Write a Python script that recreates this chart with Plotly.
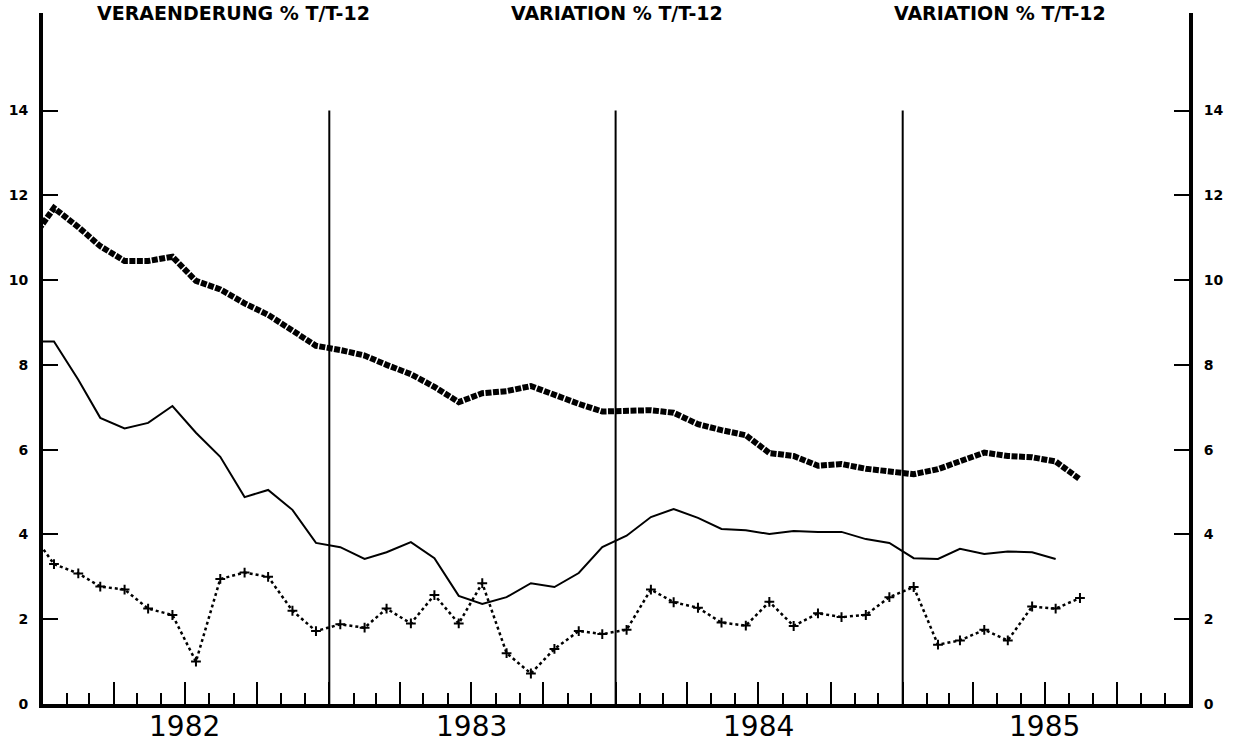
import pandas as pd
import plotly.graph_objects as go

# Monthly observations, Dec 1981 .. Aug 1985 (plotted at mid-month)
months = [d + pd.Timedelta(days=14) for d in pd.date_range("1981-12-01", periods=45, freq="MS")]

series_thick = [10.9, 11.7, 11.25, 10.8, 10.45, 10.45, 10.55, 9.98, 9.78, 9.45, 9.18, 8.8,
                8.45, 8.35, 8.22, 8.0, 7.78, 7.48, 7.12, 7.33, 7.38, 7.5, 7.28, 7.08,
                6.9, 6.9, 6.93, 6.87, 6.6, 6.46, 6.34, 5.92, 5.85, 5.62, 5.66, 5.55,
                5.5, 5.42, 5.54, 5.72, 5.93, 5.85, 5.82, 5.72, 5.3]

series_solid = [8.55, 8.55, 7.65, 6.75, 6.5, 6.63, 7.03, 6.4, 5.83, 4.88, 5.05, 4.58,
                3.8, 3.7, 3.42, 3.58, 3.82, 3.44, 2.55, 2.36, 2.52, 2.85, 2.76, 3.09,
                3.7, 3.97, 4.41, 4.6, 4.39, 4.13, 4.1, 4.01, 4.08, 4.06, 4.06, 3.89,
                3.8, 3.44, 3.42, 3.66, 3.54, 3.6, 3.58, 3.42]

series_plus = [4.1, 3.3, 3.08, 2.77, 2.7, 2.25, 2.1, 1.0, 2.95, 3.1, 3.0, 2.2,
               1.72, 1.88, 1.8, 2.25, 1.9, 2.57, 1.9, 2.85, 1.2, 0.72, 1.3, 1.72,
               1.65, 1.75, 2.7, 2.4, 2.27, 1.92, 1.85, 2.41, 1.84, 2.14, 2.05, 2.1,
               2.52, 2.76, 1.4, 1.5, 1.75, 1.5, 2.3, 2.25, 2.5]

y_ticks = [0, 2, 4, 6, 8, 10, 12, 14]
quarter_ticks = ["1982-04-01", "1982-07-01", "1982-10-01",
                 "1983-01-01", "1983-04-01", "1983-07-01", "1983-10-01",
                 "1984-01-01", "1984-04-01", "1984-07-01", "1984-10-01",
                 "1985-01-01", "1985-04-01", "1985-07-01", "1985-10-01"]
year_labels = ["1982", "1983", "1984", "1985"]
year_mid = ["1982-07-01", "1983-07-01", "1984-07-01", "1985-07-01"]
year_breaks = ["1983-01-01", "1984-01-01", "1985-01-01"]
titles = ["VERAENDERUNG % T/T-12", "VARIATION % T/T-12", "VARIATION % T/T-12"]
title_pos = [0.166, 0.501, 0.835]

fig = go.Figure()
fig.add_trace(go.Scatter(x=months, y=series_thick, mode="lines",
                         line=dict(color="black", width=6, dash="6px,1.5px"),
                         showlegend=False))
fig.add_trace(go.Scatter(x=months[:len(series_solid)], y=series_solid, mode="lines",
                         line=dict(color="black", width=2),
                         showlegend=False))
fig.add_trace(go.Scatter(x=months, y=series_plus, mode="lines+markers",
                         line=dict(color="black", width=2.5, dash="3px,3px"),
                         marker=dict(symbol="cross-thin", size=7,
                                     line=dict(color="black", width=2)),
                         showlegend=False))
# empty trace to register the right-hand axis
fig.add_trace(go.Scatter(x=[], y=[], yaxis="y2", showlegend=False))

for xb in year_breaks:
    fig.add_shape(type="line", xref="x", yref="y", x0=xb, x1=xb, y0=0, y1=14,
                  line=dict(color="black", width=2))

for t, px in zip(titles, title_pos):
    fig.add_annotation(text=t, xref="paper", yref="paper", x=px, y=1.0,
                       xanchor="center", yanchor="middle", showarrow=False,
                       font=dict(family="DejaVu Sans", size=19, color="black",
                                 weight="bold"))

for lab, xm in zip(year_labels, year_mid):
    fig.add_annotation(text=lab, xref="x", yref="paper", x=xm, y=0,
                       xanchor="center", yanchor="top", yshift=-4, showarrow=False,
                       font=dict(family="DejaVu Sans", size=28, color="black"))

yaxis_common = dict(range=[0, 16.3], tickvals=y_ticks, ticks="inside", ticklen=15,
                    tickwidth=2, tickcolor="black", showline=True, linewidth=4,
                    linecolor="black", showgrid=False, zeroline=False,
                    automargin=False,
                    tickfont=dict(family="DejaVu Sans", size=14, color="black",
                                  weight="bold"),
                    ticklabelstandoff=8)

fig.update_layout(
    width=1241, height=747,
    margin=dict(l=43, r=52, t=13, b=43),
    paper_bgcolor="white", plot_bgcolor="white",
    font=dict(family="DejaVu Sans", color="black"),
    xaxis=dict(type="date", range=["1982-01-01", "1986-01-01"],
               tickvals=quarter_ticks, showticklabels=False,
               ticks="inside", ticklen=22, tickwidth=2, tickcolor="black",
               minor=dict(ticks="inside", ticklen=11, tickwidth=2, tickcolor="black",
                          dtick="M1", tick0="1982-01-01"),
               showline=True, linewidth=4, linecolor="black",
               showgrid=False, zeroline=False, automargin=False),
    yaxis=dict(**yaxis_common, side="left"),
    yaxis2=dict(**yaxis_common, side="right", overlaying="y", anchor="x"),
)

fig.write_html("out.html",
               config={"displayModeBar": False},
               post_script="document.body.style.margin='0';document.body.style.overflow='hidden';")
